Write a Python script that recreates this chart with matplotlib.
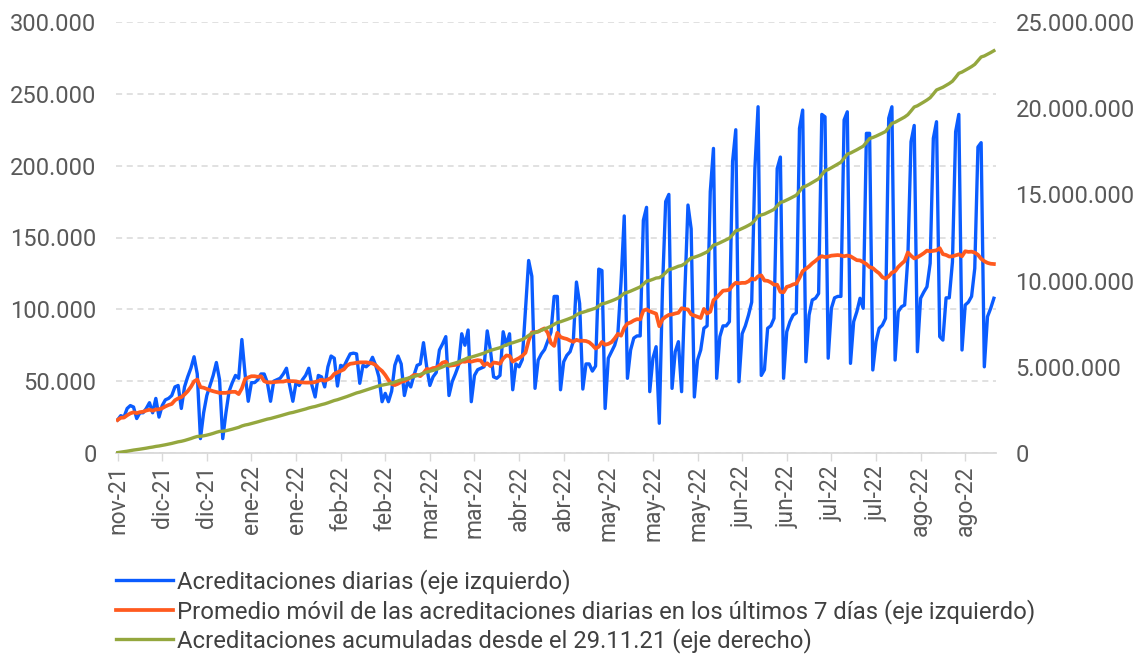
import matplotlib.pyplot as plt
from matplotlib.ticker import FuncFormatter, MultipleLocator
from matplotlib.transforms import ScaledTranslation
import pandas as pd

# Roboto is the closest match to the original chart font
plt.rcParams['font.family'] = ['Roboto', 'DejaVu Sans']

start_date = '2021-11-29'

# daily accreditations, thousands (one value per day)
daily_nov_feb = [
    23, 26, 25, 31, 33, 32, 24, 28, 28, 31,
    35, 28, 38, 25, 33, 37, 38, 40, 46, 47,
    31, 46, 53, 59, 67, 55, 10, 28, 40, 47,
    54, 63, 51, 10, 28, 43, 49, 54, 52, 79,
    55, 36, 49, 49, 51, 55, 55, 49, 36, 50,
    51, 52, 55, 59, 47, 36, 49, 47, 51, 54,
    59, 47, 39, 54, 53,
]
daily_feb_abr = [
    46, 60, 67.5, 66, 46.6, 61, 60, 64.7, 69, 69.5,
    69, 48.5, 61, 60, 62, 66.6, 61, 53, 35.7, 41.5,
    35.7, 43, 61, 67.5, 62, 40, 49.6, 46, 54, 61,
    62, 76.8, 60, 47, 53, 56, 71.7, 76, 81, 40,
    49.6, 55, 61, 83, 75, 85.6, 35.7, 54, 58, 59,
    60, 85, 71.7, 53, 52, 54, 84.4, 75, 83, 44,
    62, 60, 65, 99.5, 134, 123, 45, 64.7, 69, 72,
    78,
]
daily_abr_jun = [
    84, 109, 109, 44, 63.5, 68, 70.5, 77.5, 119, 104,
    44.5, 62, 62, 57, 60.5, 128, 127, 31, 66, 70.5,
    75, 83, 119, 165, 52, 71.7, 80, 81.5, 81.5, 162,
    171, 42.7, 66, 74, 20.7, 114.6, 175, 180, 45, 70.5,
    77.5, 42.7, 111, 172.6, 156, 39, 64.7, 71.7, 86.8, 88.5,
    182, 212, 52, 81, 88.5, 88.5, 91.4, 203, 225, 49.6,
    83, 88.5, 96, 105, 198, 241, 54, 58, 86.8, 88.5,
    93.7, 198, 206,
]
daily_jun_ago = [
    52, 84.4, 91.4, 96, 97.5, 226, 238.7,
    63.5, 96, 106.5, 107.7, 111, 235.7, 234,
    66, 100.7, 108, 109, 109, 231.8, 237.5,
    62.4, 91.4, 98.4, 107.7, 100.7, 222.5, 222.5,
    57.8, 77.5, 86.8, 89, 93.7, 233, 241,
    64.7, 98.4, 101.8, 103, 135.5, 216.7, 228,
    70.5, 107.7, 112, 115.7, 132, 219, 230.6,
    81, 78.6, 108, 108, 133, 223.6, 235.7,
    71.7, 103, 105, 109, 128.5, 213, 216,
    60, 94.9, 100.7, 107.7,
]

tick_labels = ['nov-21', 'dic-21', 'dic-21', 'ene-22', 'ene-22', 'feb-22', 'feb-22',
               'mar-22', 'mar-22', 'abr-22', 'abr-22', 'may-22', 'may-22', 'may-22',
               'jun-22', 'jun-22', 'jul-22', 'jul-22', 'ago-22', 'ago-22']

label_daily = 'Acreditaciones diarias (eje izquierdo)'
label_ma = 'Promedio móvil de las acreditaciones diarias en los últimos 7 días (eje izquierdo)'
label_cum = 'Acreditaciones acumuladas desde el 29.11.21 (eje derecho)'

blue = '#0A5CFF'
orange = '#FF5A1F'
green = '#94A73E'
grey_text = '#595959'
grey_line = '#D9D9D9'

values = daily_nov_feb + daily_feb_abr + daily_abr_jun + daily_jun_ago
dates = pd.date_range(start_date, periods=len(values), freq='D')
daily = pd.Series(values, index=dates) * 1000
moving_avg = daily.rolling(7, min_periods=1).mean()
cumulative = daily.cumsum()


def thousands(v, pos):
    return f'{v:,.0f}'.replace(',', '.')


fig = plt.figure(figsize=(11.47, 6.61), dpi=100)
ax = fig.add_axes([116 / 1147, 1 - 453 / 661, 880 / 1147, 431 / 661])
ax2 = ax.twinx()

l1, = ax.plot(dates, daily, color=blue, linewidth=2.4, zorder=3)
l2, = ax.plot(dates, moving_avg, color=orange, linewidth=2.7, zorder=4)
l3, = ax2.plot(dates, cumulative, color=green, linewidth=2.4)

# y axes
ax.set_ylim(0, 300000)
ax.yaxis.set_major_locator(MultipleLocator(50000))
ax.yaxis.set_major_formatter(FuncFormatter(thousands))
ax2.set_ylim(0, 25000000)
ax2.yaxis.set_major_locator(MultipleLocator(5000000))
ax2.yaxis.set_major_formatter(FuncFormatter(thousands))
ax.grid(axis='y', color=grey_line, linestyle=(0, (4, 3)), linewidth=1.1)
ax.set_axisbelow(True)

# x axis: one tick every 14 days
ax.set_xlim(dates[0] - pd.Timedelta(hours=12), dates[-1] + pd.Timedelta(hours=16))
ax.set_xticks(dates[::14])
ax.set_xticklabels(tick_labels, rotation=90)
for lbl in ax.get_xticklabels():
    lbl.set_transform(lbl.get_transform() + ScaledTranslation(0.06, 0, fig.dpi_scale_trans))

ax.tick_params(axis='x', length=6, width=1, color=grey_line, pad=3,
               labelsize=16.5, labelcolor=grey_text)
ax.tick_params(axis='y', length=0, pad=14, labelsize=17, labelcolor=grey_text)
ax2.tick_params(axis='y', length=0, pad=14, labelsize=17, labelcolor=grey_text)

for side in ['top', 'left', 'right']:
    ax.spines[side].set_visible(False)
for side in ['top', 'left', 'right', 'bottom']:
    ax2.spines[side].set_visible(False)
ax.spines['bottom'].set_color(grey_line)
ax.spines['bottom'].set_linewidth(1.3)

leg = fig.legend([l1, l2, l3], [label_daily, label_ma, label_cum],
                 loc='upper left', bbox_to_anchor=(116 / 1147, 1 - 569 / 661),
                 frameon=False, fontsize=17.2, handlelength=2.4, handletextpad=0.15,
                 labelspacing=0.2, borderaxespad=0, borderpad=0)
for txt in leg.get_texts():
    txt.set_color('#404040')

plt.savefig('out.png', dpi=100)
plt.close()
